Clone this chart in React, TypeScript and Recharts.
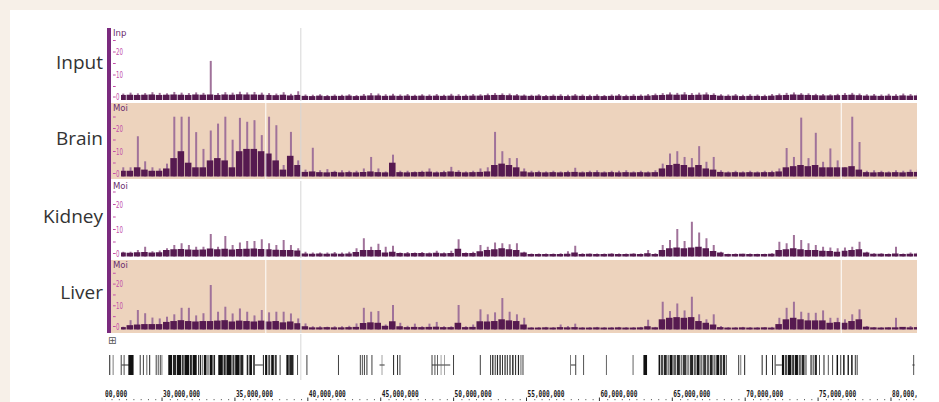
import { BarChart, Bar, XAxis, YAxis, ReferenceLine, ReferenceArea, ComposedChart } from "recharts";

// signal bins, Mb
const BIN_START = 27.0;
const BIN_SIZE = 0.5;

const INPUT_PEAK = [
  2.8, 3.2, 2.9, 3.0, 3.4, 3.1, 2.9, 3.5, 3.2, 3.0,
  3.3, 3.1, 17, 3.0, 3.4, 3.2, 3.6, 3.3, 3.5, 3.2,
  3.0, 2.8, 3.4, 2.7, 3.8, 2.4, 2.3, 2.5, 2.2, 2.4,
  2.3, 2.5, 2.2, 2.6, 3.0, 2.8, 2.5, 2.7, 2.4, 2.6,
  2.3, 2.5, 2.4, 2.6, 2.3, 2.7, 2.5, 2.4, 2.6, 2.5,
  2.8, 3.0, 2.9, 2.8, 2.6, 2.4, 2.3, 2.5, 2.2, 2.4,
  2.5, 2.3, 2.6, 2.4, 2.3, 2.5, 2.2, 2.4, 2.6, 2.3,
  2.5, 2.4, 2.6, 2.8, 3.0, 3.3, 3.1, 3.4, 3.0, 3.2,
  3.3, 2.9, 2.5, 2.4, 2.6, 2.3, 2.5, 2.4, 2.3, 2.6,
  2.8, 3.1, 3.3, 3.0, 2.9, 2.7, 2.6, 2.5, 2.7, 3.0,
  3.1, 2.8, 2.5, 2.6, 2.4, 2.7, 2.5, 2.8, 2.6, 2.9,
];
const INPUT_BODY = [
  2.2, 2.3, 2.2, 2.3, 2.4, 2.2, 2.3, 2.4, 2.3, 2.2,
  2.4, 2.3, 2.4, 2.2, 2.4, 2.3, 2.5, 2.4, 2.4, 2.3,
  2.2, 2.1, 2.3, 2.0, 2.2, 1.8, 1.7, 1.9, 1.7, 1.8,
  1.8, 1.9, 1.7, 1.9, 2.0, 2.0, 1.8, 1.9, 1.8, 1.9,
  1.8, 1.9, 1.8, 1.9, 1.8, 1.9, 1.8, 1.8, 1.9, 1.9,
  2.1, 2.2, 2.2, 2.1, 2.0, 1.9, 1.8, 1.9, 1.7, 1.8,
  1.8, 1.7, 1.9, 1.8, 1.7, 1.8, 1.7, 1.8, 1.9, 1.7,
  1.8, 1.8, 1.9, 2.1, 2.2, 2.4, 2.3, 2.4, 2.2, 2.3,
  2.4, 2.2, 1.9, 1.8, 1.9, 1.7, 1.8, 1.8, 1.7, 1.9,
  2.1, 2.2, 2.4, 2.3, 2.2, 2.1, 2.0, 2.0, 2.1, 2.2,
  2.3, 2.1, 1.9, 1.9, 1.8, 1.9, 1.8, 2.0, 1.9, 2.0,
];

const BRAIN_PEAK = [
  4, 4, 17.5, 6.6, 4, 3.5, 5.6, 26, 26, 26,
  19.3, 12, 20, 23, 26, 16, 25.5, 23.8, 24.5, 18,
  26, 22.3, 5, 19.4, 7, 3, 12.5, 2.7, 3.2, 2.5,
  2.7, 2.5, 2.5, 3.5, 8.5, 3.5, 2.2, 9.5, 2.5, 2.5,
  2.2, 2.5, 3.5, 2.2, 2.5, 4.2, 2.7, 2.2, 2.5, 3.5,
  4, 19.4, 11, 8, 8, 3.5, 2.5, 2.5, 2.2, 2.5,
  2.2, 2.5, 3.8, 2.2, 2.5, 2.7, 2.2, 2.5, 2.5, 2.7,
  2.2, 2.5, 2.2, 2.7, 5.6, 10, 11, 8.5, 8, 13.2,
  6.4, 8.5, 2.7, 2.2, 2.5, 2.2, 2.5, 2.2, 2.5, 2.5,
  3.5, 12.4, 8.5, 25.6, 8, 19, 6.4, 12.2, 7, 4,
  26, 15, 2.5, 2.7, 2.5, 2.2, 2.7, 2.5, 3, 3,
];
const BRAIN_BODY = [
  2.5, 2.5, 4, 3, 2.5, 2.5, 3.5, 8, 11, 6,
  4, 4, 7, 8, 7, 4, 11, 12, 12, 11,
  10, 7, 3, 9, 5, 2, 2.2, 1.9, 1.8, 2.0,
  1.8, 1.9, 1.8, 2.0, 2.2, 1.9, 1.8, 6, 1.9, 1.8,
  1.9, 2.0, 2.1, 1.8, 1.9, 2.2, 2.0, 1.8, 1.9, 2.0,
  2.2, 5, 5.6, 5, 4, 2.2, 1.8, 1.9, 1.8, 1.9,
  1.8, 1.9, 2.0, 1.8, 1.9, 1.9, 1.8, 1.9, 1.8, 1.9,
  1.8, 1.9, 1.8, 1.9, 3.5, 5, 5.5, 5, 4, 5,
  3.5, 3, 2.0, 1.8, 1.9, 1.8, 1.9, 1.8, 1.9, 1.9,
  2.2, 4, 4.5, 5, 4.5, 5, 4, 4, 4, 4,
  4.5, 3, 1.9, 1.8, 1.9, 1.8, 1.9, 1.8, 2.0, 2.0,
];

const KIDNEY_PEAK = [
  1.9, 1.9, 2.6, 3.9, 2.1, 2.4, 3.3, 4.6, 5.3, 4.6,
  3.9, 3.9, 9, 3.9, 8.2, 4.6, 5.6, 6.2, 6.2, 6.9,
  5.3, 4.6, 6.6, 4.6, 3.3, 1.9, 1.6, 1.6, 1.6, 1.8,
  1.6, 1.9, 3.3, 7.3, 3.9, 5.1, 3.9, 4.3, 1.6, 1.8,
  1.6, 1.8, 1.6, 2.3, 1.6, 2.3, 6.9, 1.6, 1.9, 4.6,
  3.9, 5.6, 5.3, 4.9, 5.3, 1.9, 1.2, 1.2, 1.2, 1.2,
  1.3, 2.1, 4.3, 1.3, 1.2, 1.2, 1.2, 1.3, 1.2, 1.2,
  1.3, 1.2, 2.6, 1.3, 4.6, 6.6, 11, 6.2, 13.9, 9.6,
  7.3, 4.6, 1.9, 1.1, 1.2, 1.1, 1.2, 1.1, 1.1, 1.3,
  5.9, 5.3, 8.6, 6.6, 5.3, 4.6, 3.9, 3.6, 3.3, 3.6,
  3.9, 5.9, 1.9, 1.3, 1.3, 1.2, 3.9, 1.2, 1.6, 1.7,
];
const KIDNEY_BODY = [
  1.6, 1.5, 1.7, 1.8, 1.6, 1.7, 2.6, 2.9, 3.0, 2.8,
  2.7, 2.8, 3.2, 2.9, 3.1, 2.8, 3.0, 3.1, 3.2, 3.0,
  2.9, 2.7, 2.6, 2.6, 2.4, 1.2, 1.1, 1.2, 1.1, 1.2,
  1.1, 1.2, 1.8, 2.6, 2.6, 2.6, 1.6, 1.9, 1.4, 1.3,
  1.4, 1.4, 1.3, 1.5, 1.3, 1.4, 3.1, 1.4, 1.4, 2.1,
  2.6, 2.9, 3.3, 2.9, 2.6, 1.6, 1.0, 1.0, 1.0, 1.0,
  1.0, 1.1, 1.6, 1.0, 1.1, 1.0, 1.0, 1.1, 1.0, 1.0,
  1.1, 1.0, 1.3, 1.0, 2.6, 3.3, 3.6, 3.3, 3.6, 3.9,
  3.3, 2.2, 1.6, 1.0, 1.0, 1.1, 1.0, 1.0, 1.0, 1.1,
  2.6, 2.9, 3.3, 2.9, 2.6, 2.6, 2.3, 2.2, 1.9, 2.3,
  2.6, 2.9, 1.6, 1.1, 1.1, 1.0, 1.2, 1.0, 1.1, 1.2,
];

const LIVER_PEAK = [
  1.3, 4.3, 9, 7.5, 5.5, 5.1, 5.9, 7, 10, 10,
  6.5, 7.5, 20.5, 8.2, 10.5, 7.4, 9.7, 8.2, 6.5, 9,
  7.9, 8.2, 8.2, 7.4, 5.1, 2.8, 1.5, 1.5, 1.3, 1.5,
  1.5, 1.7, 2.8, 10, 8.2, 8.5, 2.3, 11.3, 3.1, 1.7,
  2.7, 1.5, 2.7, 3.5, 1.5, 1.5, 11.3, 1.5, 2.3, 9.3,
  7, 7.9, 14.5, 8.2, 7, 5.4, 1.1, 1.1, 1.2, 1.1,
  2.3, 1.6, 2.7, 1.1, 1.1, 1.2, 1.1, 1.1, 1.2, 1.1,
  1.1, 1.2, 4.5, 1.2, 12.8, 8.5, 12, 8.8, 15.1, 7,
  4.7, 7, 1.6, 1.1, 1.1, 1.2, 1.1, 1.1, 1.1, 1.2,
  5.4, 10, 12.8, 8.2, 7.7, 7.7, 8.8, 5.4, 5.4, 4.7,
  7, 9.3, 1.6, 1.1, 1.1, 1.1, 5.4, 1.1, 1.6, 2.3,
];
const LIVER_BODY = [
  1.1, 2, 2.3, 2.5, 2.5, 2.5, 3.5, 3.9, 4.3, 3.9,
  3.7, 3.9, 3.9, 4.1, 4.3, 3.7, 4.1, 3.9, 3.7, 4.1,
  3.7, 3.9, 3.3, 3.7, 2.9, 1.5, 1.0, 1.0, 1.1, 1.0,
  1.0, 1.1, 1.2, 3, 3.3, 3.1, 1.7, 3.8, 1.5, 1.1,
  1.2, 1.1, 1.2, 1.3, 1.1, 1.1, 3.1, 1.1, 1.2, 3.8,
  3.7, 3.9, 4.7, 4.2, 3.9, 2.3, 0.9, 0.9, 1.0, 0.9,
  1.1, 1.0, 1.1, 0.9, 0.9, 1.0, 0.9, 0.9, 1.0, 0.9,
  0.9, 1.0, 1.5, 1.0, 4.7, 5.4, 5.7, 5.4, 5.7, 3.9,
  3.1, 2.3, 1.1, 0.9, 0.9, 1.0, 0.9, 0.9, 1.0, 0.9,
  2.5, 4.7, 5.4, 4.7, 4.2, 4.2, 4.2, 3.1, 3.4, 3.1,
  3.9, 4.7, 1.3, 1.0, 0.9, 1.0, 1.0, 1.2, 1.0, 1.1,
];

const Y_TICKS = [0, 5, 10, 15, 20, 25];
const RULER_MAJOR = [25, 30, 35, 40, 45, 50, 55, 60, 65, 70, 75, 80];
const CURSOR = 39.45;
const GAPS = [37.05, 76.52];

// [start Mb, end Mb, score]
const GENES = [
  [26.31, 26.38, 900], [26.55, 26.6, 700], [27.1, 27.16, 900], [27.3, 27.36, 800],
  [27.62, 27.98, 1000], [28.4, 28.47, 800], [28.62, 28.68, 900], [28.86, 28.92, 700],
  [29.05, 29.12, 900], [29.5, 29.56, 900], [29.64, 29.7, 800], [29.78, 29.84, 900],
  [29.9, 29.95, 700],
  [30.36, 30.62, 1000], [30.68, 30.9, 900], [30.95, 31.25, 1000], [31.3, 31.42, 800],
  [31.47, 31.8, 1000], [31.85, 31.98, 900], [32.03, 32.31, 1000],
  [32.4, 32.46, 900], [32.52, 32.6, 1000], [32.66, 32.72, 700], [32.8, 32.98, 1000],
  [33.05, 33.12, 800], [33.2, 33.4, 1000], [33.46, 33.57, 900],
  [33.79, 34.1, 1000], [34.15, 34.3, 900], [34.35, 34.7, 1000], [34.76, 34.9, 800],
  [34.95, 35.25, 1000], [35.3, 35.51, 900],
  [35.74, 35.85, 900], [35.92, 36.1, 1000], [36.18, 36.3, 800], [36.85, 36.92, 900],
  [37.0, 37.15, 1000], [37.22, 37.35, 700], [37.42, 37.6, 1000], [37.66, 37.8, 800],
  [38.0, 38.06, 900], [38.46, 38.62, 1000], [38.66, 38.95, 900], [39.2, 39.26, 800],
  [39.84, 39.9, 900], [42.0, 42.06, 900],
  [43.5, 43.56, 900], [43.64, 43.7, 800], [43.78, 43.84, 900], [43.95, 44.02, 800],
  [44.3, 44.36, 900], [45.0, 45.04, 600],
  [45.78, 45.85, 900], [46.05, 46.12, 800], [46.22, 46.28, 900],
  [48.42, 48.48, 900], [48.62, 48.68, 800], [48.8, 48.86, 700], [49.05, 49.09, 600],
  [49.3, 49.34, 600], [49.9, 49.96, 900], [51.73, 51.79, 900],
  [52.44, 52.5, 900], [52.58, 52.66, 1000], [52.75, 52.82, 800], [52.9, 52.98, 900],
  [53.08, 53.16, 1000], [53.25, 53.32, 800], [53.42, 53.5, 900], [53.58, 53.66, 700],
  [53.76, 53.84, 900], [53.95, 54.04, 1000], [54.14, 54.22, 800], [54.34, 54.42, 900],
  [54.52, 54.58, 700], [54.66, 54.72, 900],
  [57.93, 57.98, 700], [58.28, 58.34, 900], [58.82, 58.88, 800], [60.38, 60.44, 700],
  [62.21, 62.27, 700], [62.95, 63.2, 1000],
  [63.99, 64.1, 1000], [64.15, 64.3, 700], [64.35, 64.55, 900], [64.6, 64.7, 500],
  [64.75, 64.95, 1000], [65.0, 65.2, 600], [65.25, 65.45, 900], [65.5, 65.62, 500],
  [65.66, 65.9, 800], [65.95, 66.1, 400], [66.15, 66.35, 900], [66.4, 66.55, 600],
  [66.6, 66.8, 1000], [66.85, 67.0, 500], [67.05, 67.25, 800], [67.3, 67.45, 600],
  [67.5, 67.7, 900], [67.75, 67.9, 500], [67.95, 68.15, 1000], [68.2, 68.35, 700],
  [68.4, 68.55, 900], [68.6, 68.68, 600],
  [69.45, 69.52, 800], [69.6, 69.66, 600], [69.86, 69.93, 900],
  [71.06, 71.13, 900], [71.35, 71.42, 900],
  [71.77, 71.84, 900], [71.95, 72.02, 800], [72.45, 72.6, 1000], [72.65, 72.8, 700],
  [72.85, 73.1, 1000], [73.15, 73.3, 800], [73.35, 73.55, 1000], [73.6, 73.75, 600],
  [73.8, 74.0, 900], [74.05, 74.15, 500], [74.4, 74.5, 700], [74.55, 74.65, 500],
  [74.7, 74.85, 900], [75.0, 75.06, 800], [75.3, 75.37, 900], [75.6, 75.66, 800],
  [75.9, 75.96, 900], [76.2, 76.3, 1000], [76.45, 76.52, 800], [76.65, 76.75, 1000],
  [76.95, 77.05, 900], [77.2, 77.3, 1000], [77.45, 77.52, 800], [77.58, 77.64, 900],
  [81.46, 81.52, 800],
];
const INTRONS = [
  [27.16, 27.7], [36.3, 36.85], [44.85, 45.2], [48.45, 49.7], [57.98, 58.3],
  [72.02, 72.45], [81.4, 81.55],
];

const DARK = "#561a50";
const LIGHT = "#a0729a";
const TAN = "#edd3bd";
const PINK = "#c24fa8";
const TRACK_X0 = 27.118;
const X_END = 81.716;

const tickLabel = (v: number) =>
  String(Math.round(v * 1e6)).replace(/\B(?=(\d{3})+(?!\d))/g, ",");

function YTick({ x, y, payload }: any) {
  const v = payload.value;
  const yy = v === 0 ? y - 3 : y - 2;
  return (
    <g>
      <line x1={x - 8} x2={x - 5.3} y1={yy} y2={yy} stroke={PINK} strokeWidth={1} />
      {v % 10 === 0 && (
        <text
          x={x - 5}
          y={yy + 3}
          fontSize={8.5}
          fontFamily="DejaVu Sans"
          fill={PINK}
          textLength={v === 0 ? 3.5 : 7}
          lengthAdjust="spacingAndGlyphs"
        >
          {v}
        </text>
      )}
    </g>
  );
}

function Track({ name, tag, peak, body, top, height, zeroY, pxPerUnit, bg, labelTop }: any) {
  const rows = peak.map((p: number, i: number) => ({
    pos: BIN_START + BIN_SIZE * (i + 0.5),
    peak: p,
    body: body[i],
  }));
  const yMax = (zeroY - top) / pxPerUnit;
  const yMin = -(top + height - zeroY) / pxPerUnit;
  return (
    <>
      <div style={{ position: "absolute", left: 111, top, width: 806, height, background: bg }} />
      <div style={{ position: "absolute", left: 109, top, width: 808, height }}>
        <BarChart width={808} height={height} data={rows} margin={{ top: 0, right: 0, bottom: 0, left: 0 }}>
          <XAxis xAxisId="p" type="number" dataKey="pos" domain={[TRACK_X0, X_END]} hide allowDataOverflow />
          <XAxis xAxisId="b" type="number" dataKey="pos" domain={[TRACK_X0, X_END]} hide allowDataOverflow />
          <YAxis
            domain={[yMin, yMax]}
            ticks={Y_TICKS}
            interval={0}
            width={12}
            axisLine={false}
            tickLine={false}
            tickSize={0}
            tickMargin={0}
            allowDataOverflow
            tick={(p: any) => <YTick {...p} />}
          />
          <ReferenceLine xAxisId="b" x={CURSOR} stroke="rgba(215,215,215,0.85)" strokeWidth={1.2} />
          <Bar xAxisId="p" dataKey="peak" fill={LIGHT} barSize={2} isAnimationActive={false} />
          <Bar xAxisId="b" dataKey="body" fill={DARK} barSize={8} isAnimationActive={false} />
          {GAPS.map((g) => (
            <ReferenceLine key={g} xAxisId="b" x={g} stroke="#ffffff" strokeWidth={1} />
          ))}
        </BarChart>
        <div
          style={{
            position: "absolute",
            left: 4,
            top: 1,
            fontSize: 8.5,
            lineHeight: "9px",
            color: "#6a2d6e",
            fontFamily: "DejaVu Sans",
          }}
        >
          {tag}
        </div>
      </div>
      <div
        style={{
          position: "absolute",
          left: 0,
          width: 103,
          top: labelTop,
          textAlign: "right",
          fontSize: 19,
          lineHeight: "19px",
          color: "#333333",
          fontFamily: '"Open Sans", sans-serif',
        }}
      >
        {name}
      </div>
    </>
  );
}

const geneFill = (score: number) => {
  const g = Math.round(17 + ((1000 - score) / 1000) * 200);
  return `rgb(${g},${g},${g})`;
};

function GeneTrack() {
  return (
    <div style={{ position: "absolute", left: 105, top: 334, width: 812, height: 46 }}>
      <ComposedChart width={812} height={46} data={[{ x: 26.02 }, { x: X_END }]} margin={{ top: 0, right: 0, bottom: 0, left: 0 }}>
        <XAxis type="number" dataKey="x" domain={[26.02, X_END]} hide allowDataOverflow />
        <YAxis type="number" domain={[0, 46]} hide allowDataOverflow />
        <ReferenceLine x={CURSOR} stroke="#dedede" strokeWidth={1.2} />
        {INTRONS.map(([s, e], i) => (
          <ReferenceArea key={"i" + i} x1={s} x2={e} y1={14.5} y2={15.5} fill="#333" fillOpacity={1} stroke="none" ifOverflow="visible" />
        ))}
        {GENES.map(([s, e, score], i) => (
          <ReferenceArea key={i} x1={s} x2={e} y1={5} y2={25} fill={geneFill(score)} fillOpacity={1} stroke="none" ifOverflow="visible" />
        ))}
      </ComposedChart>
      <div style={{ position: "absolute", left: 3, top: 2, fontSize: 10, lineHeight: "10px", color: "#555", fontFamily: "DejaVu Sans" }}>
        ⊞
      </div>
    </div>
  );
}

function RulerTick({ x, y, payload }: any) {
  const v = payload.value;
  const major = Math.abs(v % 5) < 1e-6;
  if (!major) return <rect x={x - 0.5} y={y + 17} width={1} height={1.2} fill="#666" />;
  return (
    <g>
      <rect x={x - 1.5} y={y + 15.5} width={1} height={3.5} fill="#333" />
      <text
        x={x}
        y={y + 14.5}
        fontSize={9}
        fontWeight="bold"
        fontFamily="DejaVu Sans Mono"
        fill="#1a1a1a"
        textLength={37}
        lengthAdjust="spacingAndGlyphs"
      >
        {tickLabel(v)}
      </text>
    </g>
  );
}

function Ruler() {
  const ticks: number[] = [];
  RULER_MAJOR.forEach((m) => {
    ticks.push(m);
    for (let k = 1; k < 10 && m + k * 0.5 < X_END; k++) ticks.push(m + k * 0.5);
  });
  return (
    <div style={{ position: "absolute", left: 105, top: 380, width: 812, height: 22, overflow: "hidden" }}>
      <div style={{ position: "absolute", left: -16, top: 0 }}>
        <ComposedChart width={828} height={22} data={[{ x: 24.922 }, { x: X_END }]} margin={{ top: 0, right: 0, bottom: 0, left: 0 }}>
          <XAxis
            type="number"
            dataKey="x"
            orientation="top"
            height={2}
            domain={[24.922, X_END]}
            ticks={ticks}
            interval={0}
            axisLine={false}
            tickLine={false}
            tickSize={0}
            tickMargin={0}
            allowDataOverflow
            tick={(p: any) => <RulerTick {...p} />}
          />
          <YAxis type="number" domain={[0, 1]} hide />
          <ReferenceLine x={CURSOR} stroke="#dedede" strokeWidth={1.2} />
        </ComposedChart>
      </div>
    </div>
  );
}

export default function App() {
  return (
    <div
      style={{
        position: "absolute",
        left: 0,
        top: 0,
        width: 939,
        height: 402,
        overflow: "hidden",
        background: "#f7f0e8",
      }}
    >
      <style>{`.recharts-surface { overflow: visible; }`}</style>
      <div style={{ position: "absolute", left: 10, top: 10, width: 940, height: 400, background: "#ffffff" }} />
      <Track name="Input" tag="Inp" peak={INPUT_PEAK} body={INPUT_BODY} top={28} height={73} zeroY={100} pxPerUnit={2.3} bg="#ffffff" labelTop={53} />
      <Track name="Brain" tag="Moi" peak={BRAIN_PEAK} body={BRAIN_BODY} top={103} height={76} zeroY={176.5} pxPerUnit={2.3} bg={TAN} labelTop={128.5} />
      <Track name="Kidney" tag="Moi" peak={KIDNEY_PEAK} body={KIDNEY_BODY} top={181} height={77} zeroY={256.5} pxPerUnit={2.5} bg="#ffffff" labelTop={206.5} />
      <Track name="Liver" tag="Moi" peak={LIVER_PEAK} body={LIVER_BODY} top={260} height={73} zeroY={329.5} pxPerUnit={2.17} bg={TAN} labelTop={282.5} />
      <div style={{ position: "absolute", left: 107, top: 28, width: 4, height: 305, background: "#7a2a7e" }} />
      <GeneTrack />
      <Ruler />
    </div>
  );
}
